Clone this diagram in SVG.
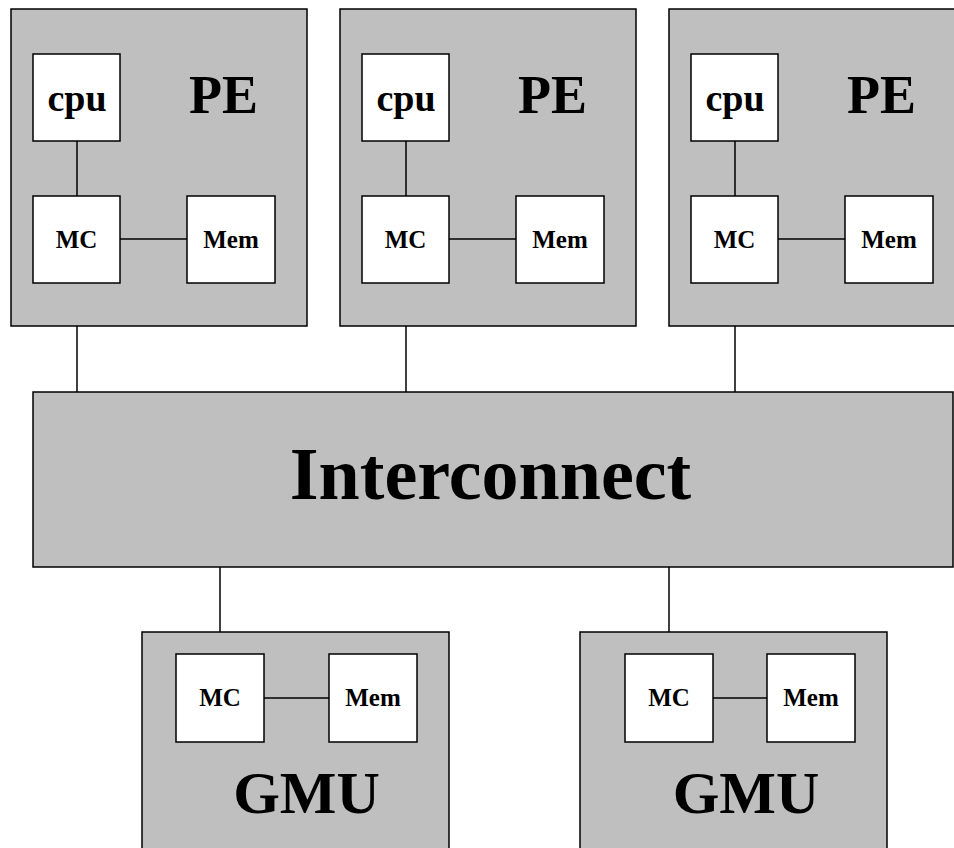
<svg xmlns="http://www.w3.org/2000/svg" width="954" height="848" viewBox="0 0 954 848">
<style>
.box{fill:#bfbfbf;stroke:#000;stroke-width:1.5}
.w{fill:#fff;stroke:#000;stroke-width:1.5}
.ln{stroke:#000;stroke-width:1.5;fill:none}
text{font-family:"Liberation Serif","Times New Roman",serif;font-weight:bold;fill:#000;text-anchor:middle}
.big{font-size:54px}
.cpu{font-size:38px}
.sm{font-size:25px}
</style>
<rect width="954" height="848" fill="#fff"/>
<g id="connectors">
<line class="ln" x1="77" y1="283" x2="77" y2="392"/>
<line class="ln" x1="406" y1="283" x2="406" y2="392"/>
<line class="ln" x1="735" y1="283" x2="735" y2="392"/>
<line class="ln" x1="220" y1="567" x2="220" y2="654"/>
<line class="ln" x1="669" y1="567" x2="669" y2="654"/>
</g>
<g id="pe1">
<rect class="box" x="11" y="9" width="296" height="317"/>
<rect class="w" x="33" y="54" width="87" height="87"/>
<rect class="w" x="33" y="196" width="87" height="87"/>
<rect class="w" x="187" y="196" width="88" height="87"/>
<line class="ln" x1="77" y1="141" x2="77" y2="196"/>
<line class="ln" x1="120" y1="239" x2="187" y2="239"/>
<text class="cpu" x="77" y="111">cpu</text>
<text class="big" x="223.5" y="113">PE</text>
<text class="sm" x="76.5" y="248">MC</text>
<text class="sm" x="231" y="248">Mem</text>
</g>
<g id="pe2">
<rect class="box" x="340" y="9" width="296" height="317"/>
<rect class="w" x="362" y="54" width="87" height="87"/>
<rect class="w" x="362" y="196" width="87" height="87"/>
<rect class="w" x="516" y="196" width="88" height="87"/>
<line class="ln" x1="406" y1="141" x2="406" y2="196"/>
<line class="ln" x1="449" y1="239" x2="516" y2="239"/>
<text class="cpu" x="406" y="111">cpu</text>
<text class="big" x="552.5" y="113">PE</text>
<text class="sm" x="405.5" y="248">MC</text>
<text class="sm" x="560" y="248">Mem</text>
</g>
<g id="pe3">
<rect class="box" x="669" y="9" width="296" height="317"/>
<rect class="w" x="691" y="54" width="87" height="87"/>
<rect class="w" x="691" y="196" width="87" height="87"/>
<rect class="w" x="845" y="196" width="88" height="87"/>
<line class="ln" x1="735" y1="141" x2="735" y2="196"/>
<line class="ln" x1="778" y1="239" x2="845" y2="239"/>
<text class="cpu" x="735" y="111">cpu</text>
<text class="big" x="881.5" y="113">PE</text>
<text class="sm" x="734.5" y="248">MC</text>
<text class="sm" x="889" y="248">Mem</text>
</g>
<g id="interconnect">
<rect class="box" x="33" y="392" width="920" height="175"/>
<text x="490.5" y="499" style="font-size:74px">Interconnect</text>
</g>
<g id="gmu1">
<rect class="box" x="142" y="632" width="307" height="230"/>
<rect class="w" x="176" y="654" width="88" height="88"/>
<rect class="w" x="329" y="654" width="88" height="88"/>
<line class="ln" x1="264" y1="698" x2="329" y2="698"/>
<text class="sm" x="220" y="706">MC</text>
<text class="sm" x="373" y="706">Mem</text>
<text x="306.5" y="813" style="font-size:60px">GMU</text>
</g>
<g id="gmu2">
<rect class="box" x="580" y="632" width="307" height="230"/>
<rect class="w" x="625" y="654" width="88" height="88"/>
<rect class="w" x="767" y="654" width="88" height="88"/>
<line class="ln" x1="713" y1="698" x2="767" y2="698"/>
<text class="sm" x="669" y="706">MC</text>
<text class="sm" x="811" y="706">Mem</text>
<text x="746" y="813" style="font-size:60px">GMU</text>
</g>
</svg>
